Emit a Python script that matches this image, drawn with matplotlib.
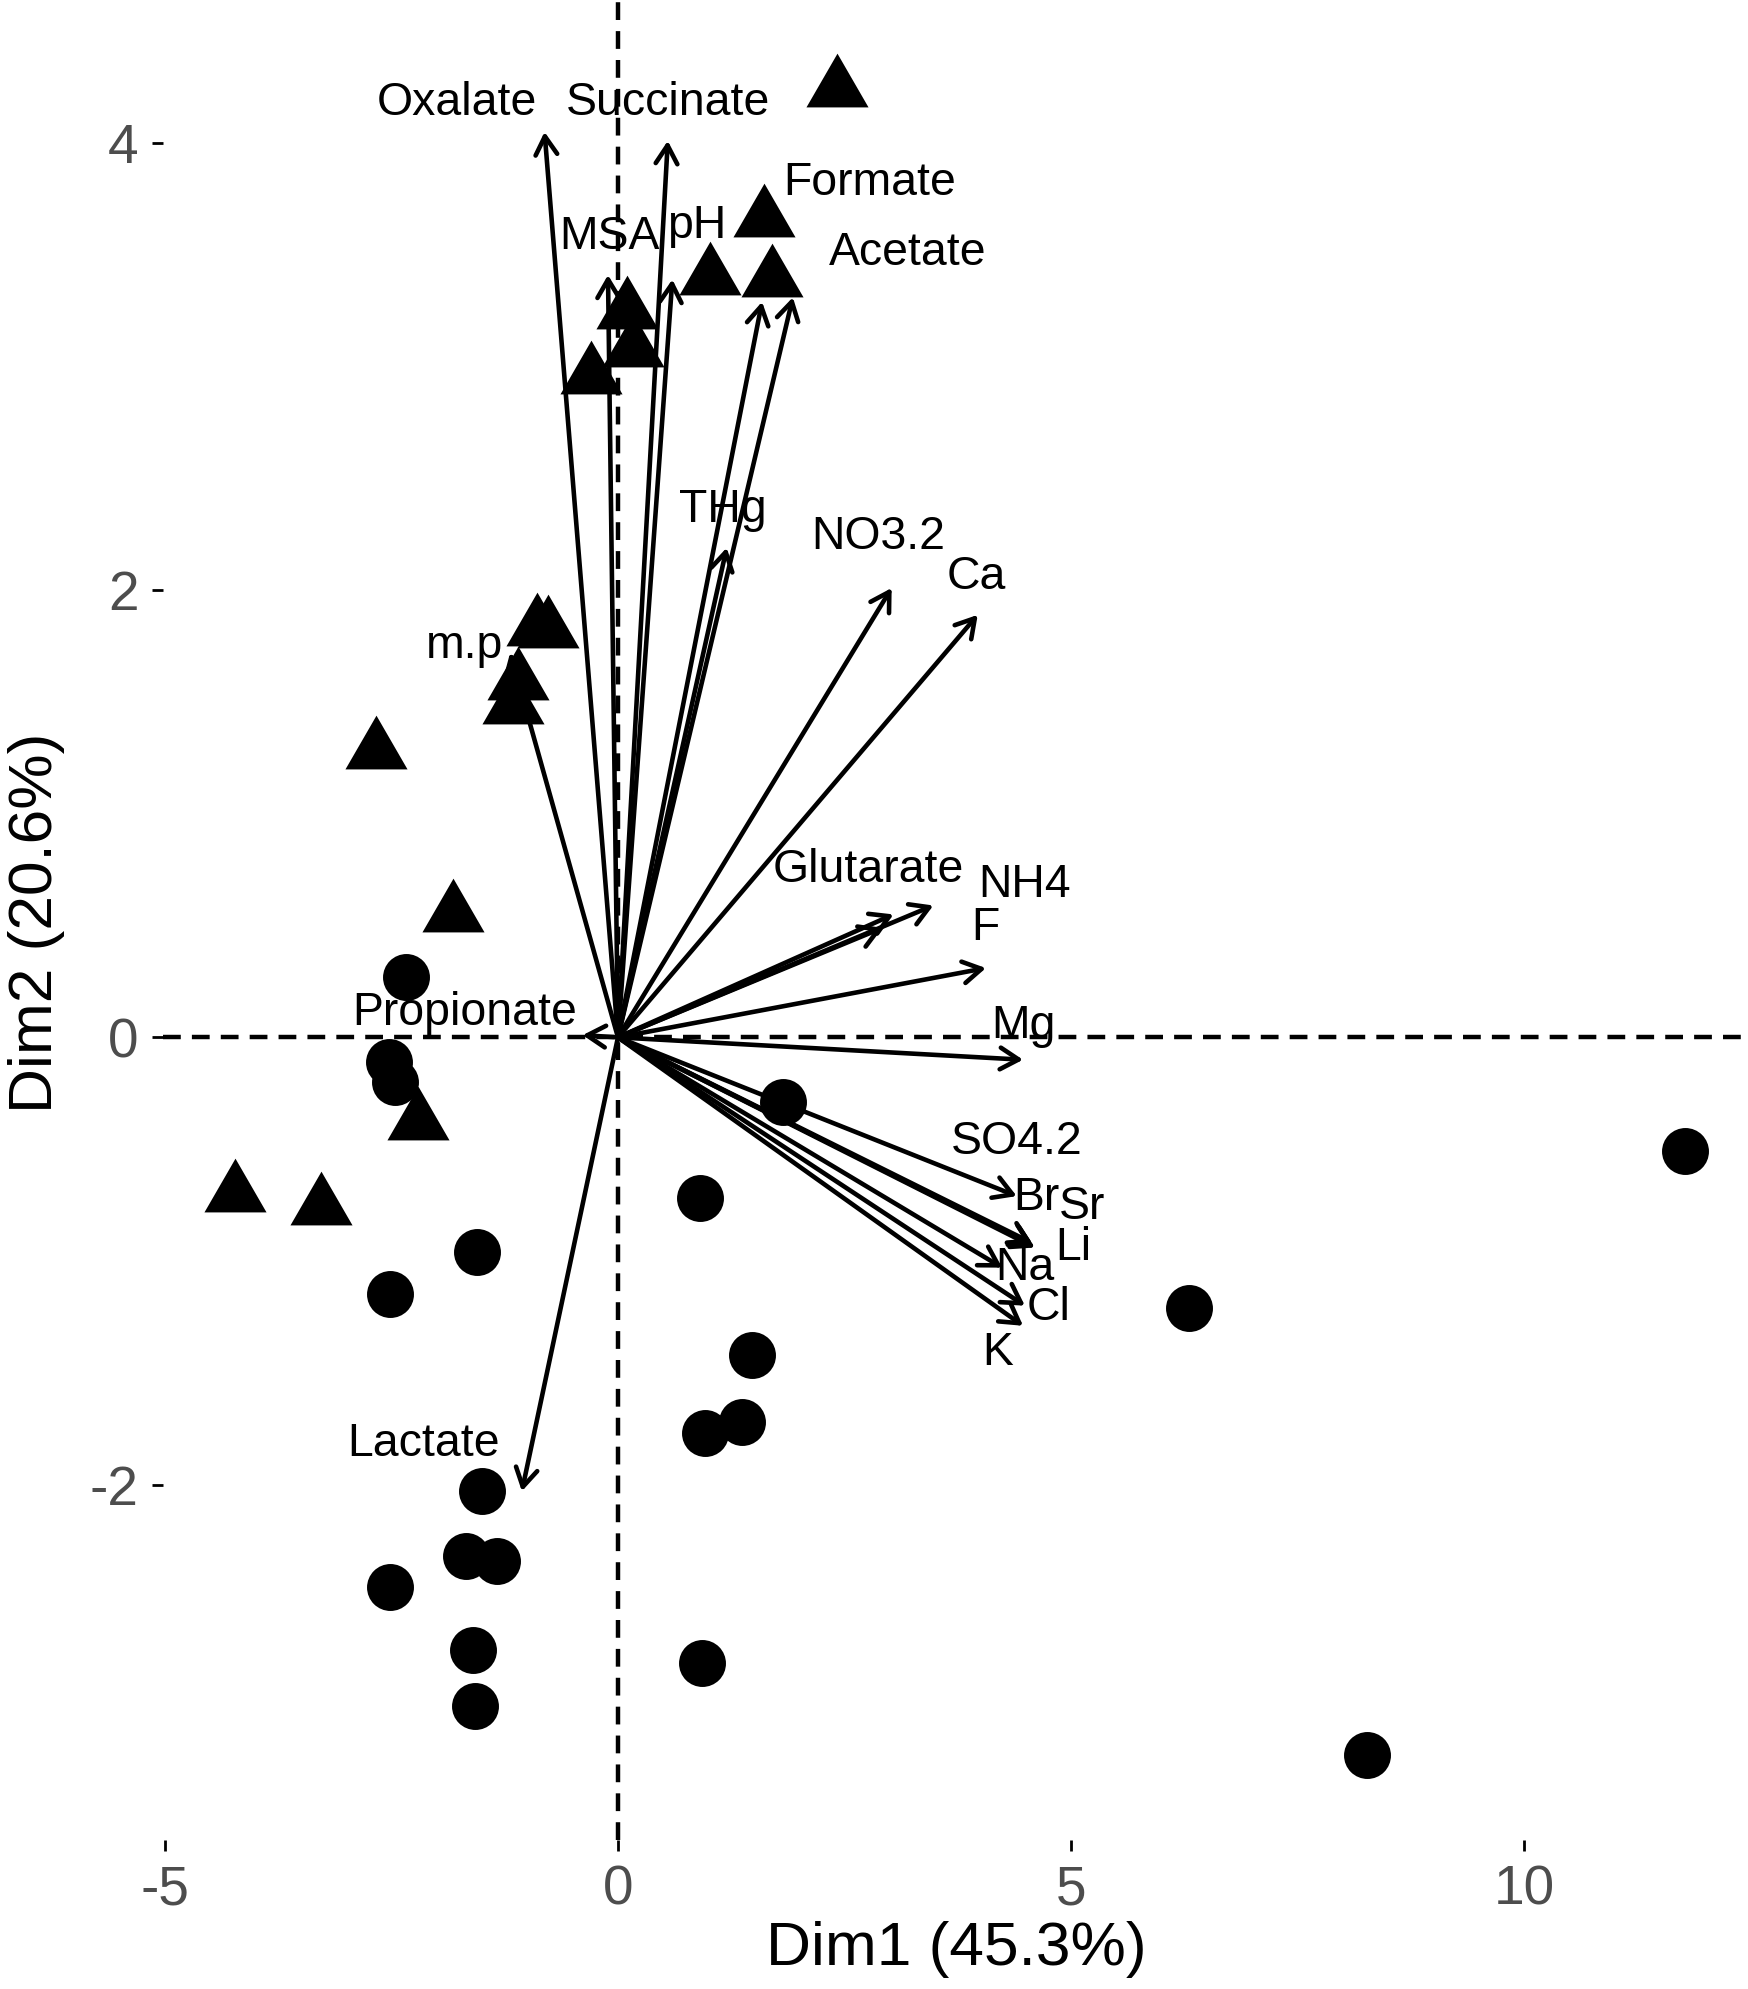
import matplotlib
matplotlib.use("Agg")
import matplotlib.pyplot as plt
from matplotlib.patches import FancyArrowPatch, ArrowStyle
from matplotlib.path import Path
import numpy as np

plt.rcParams["font.family"] = ["Liberation Sans", "DejaVu Sans"]

# individuals: two groups (circles / triangles)
circle_x = [-2.34, -2.53, -2.46, 1.82, 11.77, 0.91, -1.55, -2.52, 6.30, 1.48,
            1.37, 0.96, -1.50, -1.68, -1.34, -2.51, -1.60, 0.93, -1.58, 8.26]
circle_y = [0.27, -0.11, -0.20, -0.29, -0.51, -0.72, -0.96, -1.15, -1.21, -1.42,
            -1.72, -1.77, -2.03, -2.32, -2.34, -2.46, -2.74, -2.80, -2.99, -3.21]
triangle_x = [2.42, 1.61, 1.02, 1.70, 0.10, 0.17, -0.30, -0.89, -0.77, -1.10,
              -1.16, -2.67, -1.82, -2.21, -4.23, -3.28]
triangle_y = [4.24, 3.66, 3.40, 3.39, 3.25, 3.08, 2.96, 1.83, 1.82, 1.59,
              1.48, 1.28, 0.55, -0.38, -0.70, -0.76]

# variables: arrow tips and label positions
var_names = ["Oxalate", "Succinate", "MSA", "pH", "Formate", "Acetate", "THg",
             "NO3.2", "Ca", "Glutarate", "", "NH4", "F", "Mg", "Propionate",
             "SO4.2", "Br", "Sr", "Li", "Na", "Cl", "K", "Lactate", "m.p"]
var_x = [-0.81, 0.55, -0.11, 0.60, 1.59, 1.93, 1.20, 3.02, 3.97, 3.04, 2.92,
         3.48, 4.06, 4.47, -0.39, 4.40, 4.57, 4.60, 4.58, 4.24, 4.49, 4.47,
         -1.06, -1.19]
var_y = [4.05, 4.01, 3.41, 3.39, 3.29, 3.31, 2.19, 2.01, 1.89, 0.55, 0.49,
         0.59, 0.31, -0.10, 0.01, -0.71, -0.92, -0.94, -0.93, -1.03, -1.20,
         -1.29, -2.03, 1.72]
label_x = [-1.78, 0.55, -0.09, 0.87, 2.78, 3.20, 1.16, 2.87, 3.95, 2.76, 2.92,
           4.49, 4.05, 4.47, -1.69, 4.40, 4.62, 5.12, 5.02, 4.49, 4.75, 4.19,
           -2.15, -1.69]
label_y = [4.18, 4.18, 3.58, 3.63, 3.82, 3.51, 2.36, 2.24, 2.06, 0.75, 0.49,
           0.68, 0.49, 0.05, 0.11, -0.47, -0.72, -0.76, -0.94, -1.03, -1.21,
           -1.41, -1.82, 1.75]

x_ticks = [-5, 0, 5, 10]
y_ticks = [-2, 0, 2, 4]

W, H, DPI = 1749, 1989, 200
fig = plt.figure(figsize=(W / DPI, H / DPI), dpi=DPI)
left, bottom = 163 / W, 1 - 1840 / H
ax = fig.add_axes([left, bottom, 1 - left, 1 - bottom])
ax.set_xlim(-5.02, 12.48)
ax.set_ylim(-3.59, 4.64)

ax.axhline(0, color="black", lw=1.6, linestyle=(0, (4.0, 2.5)), zorder=1)
ax.axvline(0, color="black", lw=1.6, linestyle=(0, (4.0, 2.5)), zorder=1)

# equilateral triangle centred on its centroid (R pch 17 geometry)
tri = Path([(0, 1.555), (1.3468, -0.7776), (-1.3468, -0.7776), (0, 1.555)],
           [Path.MOVETO, Path.LINETO, Path.LINETO, Path.CLOSEPOLY])
ax.plot(circle_x, circle_y, linestyle="none", marker="o", markersize=16.9,
        color="black", mew=0, zorder=2)
ax.plot(triangle_x, triangle_y, linestyle="none", marker=tri, markersize=25.8,
        color="black", mew=0, zorder=2)

style = ArrowStyle("->", head_length=6.6, head_width=3.9)
for name, vx, vy, lx, ly in zip(var_names, var_x, var_y, label_x, label_y):
    arr = FancyArrowPatch((0, 0), (vx, vy), arrowstyle=style, mutation_scale=1,
                          color="black", lw=1.65, shrinkA=0, shrinkB=0, zorder=3)
    ax.add_patch(arr)
    if name:
        ax.text(lx, ly, name, ha="center", va="center", fontsize=16.7,
                color="black", zorder=4)

for s in ax.spines.values():
    s.set_visible(False)
ax.set_xticks(x_ticks)
ax.set_yticks(y_ticks)
ax.set_xticklabels([str(t) for t in x_ticks])
ax.set_yticklabels([str(t) for t in y_ticks])
ax.tick_params(axis="both", length=3.9, width=1.0, color="black", pad=5,
               labelsize=19.8, labelcolor="#4D4D4D")

ax.set_xlabel("Dim1 (45.3%)", fontsize=22.4, va="center")
ax.set_ylabel("Dim2 (20.6%)", fontsize=22.4, va="center")
ax.xaxis.set_label_coords(0.5, -(1950 - 1840) / 1840)
ax.yaxis.set_label_coords(-(163 - 37) / (W - 163), 0.5 - (923 - 920) / 1840)

fig.savefig("out.png", dpi=DPI)
